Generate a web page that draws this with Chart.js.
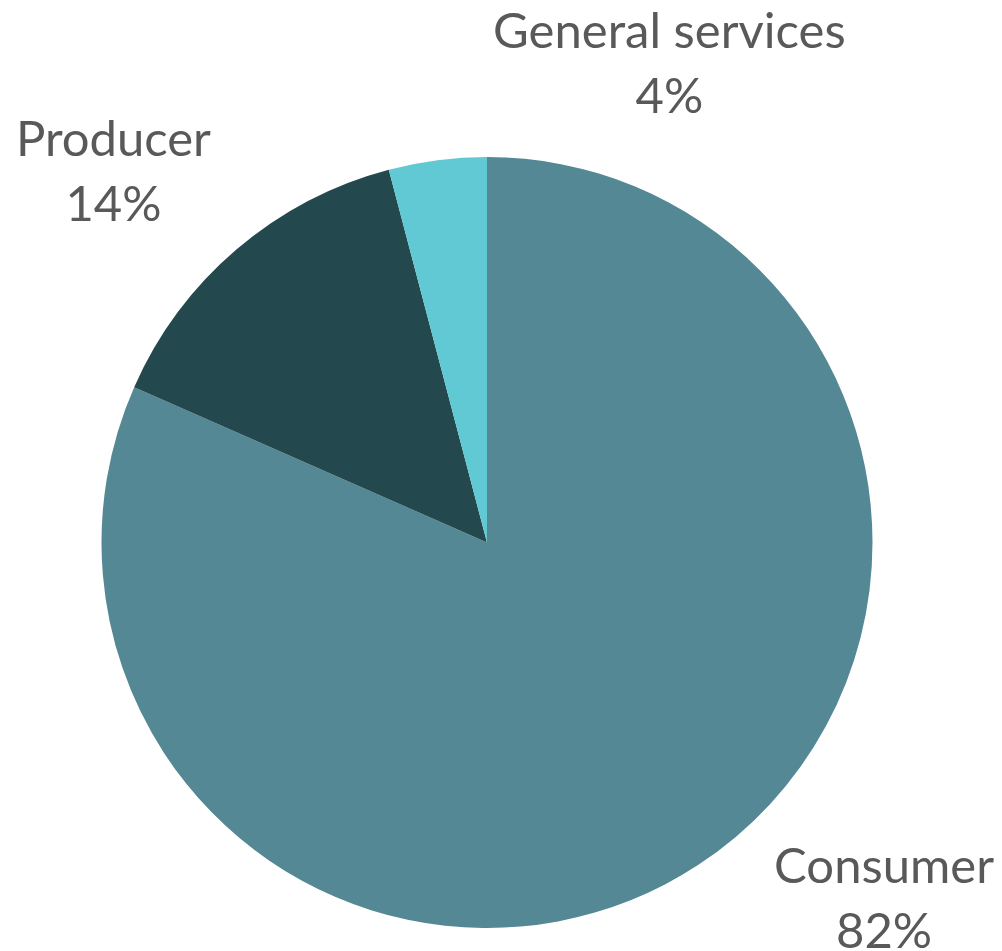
<!DOCTYPE html>
<html>
<head>
<meta charset="utf-8">
<script src="https://cdn.jsdelivr.net/npm/chart.js@4"></script>
<style>
  body { margin: 0; background: #fff; }
  #wrap { width: 1002px; height: 951px; }
</style>
</head>
<body>
<div id="wrap"><canvas id="pieChart"></canvas></div>
<script>
const categories = ["Consumer", "Producer", "General services"];
const shares = [81.6, 14.3, 4.1];
const sliceColors = ["#548895", "#23494e", "#60c9d3"];

// label anchors, in pie radii from the pie centre (Excel best-fit placement)
const labelSpots = [[1.03, 0.925], [-0.969, -0.96], [0.473, -1.24]];

const outsideLabels = {
  id: "outsideLabels",
  afterDatasetsDraw(chart) {
    const ctx = chart.ctx;
    const arcs = chart.getDatasetMeta(0).data;
    const total = shares.reduce((a, b) => a + b, 0);
    ctx.save();
    ctx.fillStyle = "#595959";
    ctx.font = "49px Lato";
    ctx.textAlign = "center";
    ctx.textBaseline = "middle";
    arcs.forEach((arc, i) => {
      const r = arc.outerRadius;
      const x = arc.x + labelSpots[i][0] * r;
      const y = arc.y + labelSpots[i][1] * r;
      const pct = Math.round((shares[i] / total) * 100) + "%";
      ctx.fillText(categories[i], x, y - 32);
      ctx.fillText(pct, x, y + 33);
    });
    ctx.restore();
  }
};

new Chart(document.getElementById("pieChart").getContext("2d"), {
  type: "pie",
  data: {
    labels: categories,
    datasets: [{
      data: shares,
      backgroundColor: sliceColors,
      borderWidth: 0
    }]
  },
  options: {
    responsive: true,
    maintainAspectRatio: false,
    animation: false,
    layout: { padding: { top: 157, bottom: 23, left: 101, right: 129 } },
    plugins: {
      legend: { display: false },
      tooltip: { enabled: false }
    }
  },
  plugins: [outsideLabels]
});
</script>
</body>
</html>
